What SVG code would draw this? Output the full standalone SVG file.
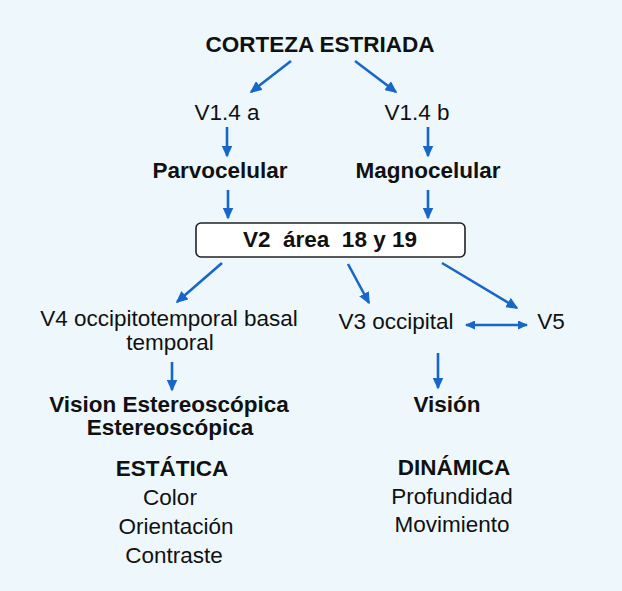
<svg xmlns="http://www.w3.org/2000/svg" width="622" height="591" viewBox="0 0 622 591">
<defs>
<marker id="ah" markerUnits="userSpaceOnUse" markerWidth="12" markerHeight="11" viewBox="0 0 12 11" refX="10.5" refY="5.5" orient="auto-start-reverse">
<path d="M0,0 L12,5.5 L0,11 Z" fill="#1766c9"/>
</marker>
<marker id="ahs" markerUnits="userSpaceOnUse" markerWidth="10" markerHeight="9" viewBox="0 0 10 9" refX="9" refY="4.5" orient="auto-start-reverse">
<path d="M0,0 L10,4.5 L0,9 Z" fill="#1766c9"/>
</marker>
<style>
.t{font-family:"Liberation Sans",Arial,sans-serif;font-size:22.5px;fill:#111;text-anchor:middle}
.b{font-weight:bold}
.c{stroke:#1766c9;stroke-width:2.6;fill:none;marker-end:url(#ah)}
</style>
</defs>
<rect width="622" height="591" fill="#eef8fc"/>
<g id="connectors">
<line class="c" x1="291" y1="61" x2="251" y2="92"/>
<line class="c" x1="355" y1="61" x2="396" y2="92"/>
<line class="c" x1="227" y1="127" x2="227" y2="156"/>
<line class="c" x1="428" y1="127" x2="428" y2="156"/>
<line class="c" x1="228" y1="190" x2="228" y2="218"/>
<line class="c" x1="428" y1="190" x2="428" y2="218"/>
<line class="c" x1="222" y1="263" x2="177" y2="302"/>
<line class="c" x1="348" y1="264" x2="369" y2="303"/>
<line class="c" x1="442" y1="263" x2="517" y2="308"/>
<line class="c" x1="466" y1="325" x2="527" y2="325" style="marker-start:url(#ahs);marker-end:url(#ahs)"/>
<line class="c" x1="172" y1="362" x2="172" y2="390"/>
<line class="c" x1="438" y1="353" x2="438" y2="388"/>
</g>
<g id="corteza"><text class="t b" x="320" y="52">CORTEZA ESTRIADA</text></g>
<g id="v14a"><text class="t" x="227" y="120">V1.4 a</text></g>
<g id="v14b"><text class="t" x="417" y="120">V1.4 b</text></g>
<g id="parvo"><text class="t b" x="220" y="178">Parvocelular</text></g>
<g id="magno"><text class="t b" x="428" y="178">Magnocelular</text></g>
<g id="v2">
<rect x="196" y="223" width="269" height="34" rx="5" fill="#fff" stroke="#222" stroke-width="1.6"/>
<text class="t b" x="330" y="247" xml:space="preserve">V2  área  18 y 19</text>
</g>
<g id="v4">
<text class="t" x="169" y="326">V4 occipitotemporal basal</text>
<text class="t" x="170" y="350">temporal</text>
</g>
<g id="v3"><text class="t" x="396" y="329">V3 occipital</text></g>
<g id="v5"><text class="t" x="551" y="329">V5</text></g>
<g id="vision-estereo">
<text class="t b" x="169" y="412">Vision Estereoscópica</text>
<text class="t b" x="170" y="435">Estereoscópica</text>
</g>
<g id="vision"><text class="t b" x="447" y="412">Visión</text></g>
<g id="estatica">
<text class="t b" x="172" y="476">ESTÁTICA</text>
<text class="t" x="170" y="505">Color</text>
<text class="t" x="176" y="534">Orientación</text>
<text class="t" x="174" y="563">Contraste</text>
</g>
<g id="dinamica">
<text class="t b" x="454" y="475">DINÁMICA</text>
<text class="t" x="452" y="504">Profundidad</text>
<text class="t" x="452" y="532">Movimiento</text>
</g>
</svg>
